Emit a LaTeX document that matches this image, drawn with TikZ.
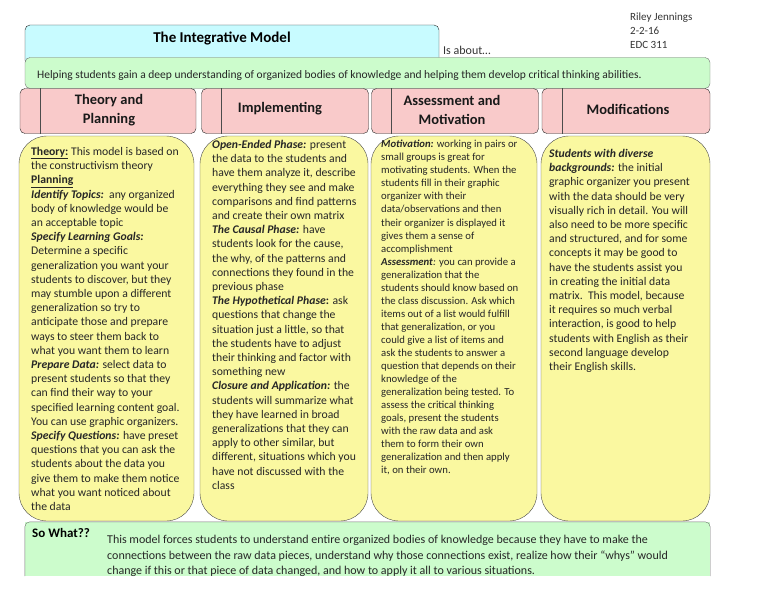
\documentclass[tikz,border=0pt]{standalone}
\usepackage{fontspec}
\setmainfont{Carlito}
\usetikzlibrary{positioning,calc}

\definecolor{titlecyan}{HTML}{C8FBFF}
\definecolor{aboutgreen}{HTML}{CCFCCC}
\definecolor{headpink}{HTML}{F9CACA}
\definecolor{colyellow}{HTML}{FAF8A0}

\begin{document}
\begin{tikzpicture}[x=1pt, y=-1pt,
    header/.style={draw=black!85, fill=headpink, rounded corners=5pt, minimum height=45pt, inner sep=0pt},
    column/.style={draw=black!70, fill=colyellow, rounded corners=28pt, minimum height=385pt, inner sep=0pt},
    headtext/.style={font=\bfseries\fontsize{14.5}{19}\selectfont, align=center, text=black!90},
    bodytext/.style={anchor=north west, inner sep=0pt, align=left, text=black!85, font=\fontsize{11.7}{14.2}\selectfont}]
  \useasboundingbox (0,0) rectangle (768,594);

  % Title and author
  \node[draw=black!85, fill=titlecyan, rounded corners=5pt, minimum width=414pt, minimum height=40pt, inner sep=0pt] (title) at (232,45) {};
  \node[font=\bfseries\fontsize{15}{18}\selectfont] (titletext) at (222,38) {The Integrative Model};
  \node[anchor=west, inner sep=0pt, font=\fontsize{12}{14}\selectfont, text=black!80] (isabout) at (443,50) {Is about…};
  \node[anchor=north west, inner sep=0pt, align=left, font=\fontsize{11}{14}\selectfont, text=black!80] (author) at (630,13) {Riley Jennings\\2-2-16\\EDC 311};

  % Is about
  \node[draw=black!55, fill=aboutgreen, rounded corners=5pt, minimum width=685pt, minimum height=31pt, inner sep=0pt] (about) at (367.5,73) {};
  \node[anchor=west, inner sep=0pt, font=\fontsize{11.5}{13}\selectfont, text=black!85] (abouttext) at (37,75) {Helping students gain a deep understanding of organized bodies of knowledge and helping them develop critical thinking abilities.};

  % Headers
  \node[header, minimum width=176pt] (hdrA) at (108,111) {};
  \node[header, minimum width=167pt] (hdrB) at (285,111) {};
  \node[header, minimum width=167pt] (hdrC) at (455,111) {};
  \node[header, minimum width=168pt] (hdrD) at (626,111) {};
  \foreach \h in {hdrA,hdrB,hdrC,hdrD}
    \draw[black!70] ($(\h.north west)+(20,0)$) -- ($(\h.south west)+(20,0)$);
  \node[headtext] (hdrAtext) at (109,110) {Theory and\\Planning};
  \node[headtext] (hdrBtext) at (280,109) {Implementing};
  \node[headtext] (hdrCtext) at (452,110) {Assessment and\\Motivation};
  \node[headtext] (hdrDtext) at (628,109) {Modifications};

  % Columns
  \node[column, minimum width=175pt] (colA) at (106.5,328.5) {};
  \node[column, minimum width=168pt] (colB) at (284,328.5) {};
  \node[column, minimum width=166pt] (colC) at (454,328.5) {};
  \node[column, minimum width=169pt] (colD) at (625.5,328.5) {};

  \node[bodytext] (txtA) at (31,147) {\underline{\textbf{Theory:}} This model is based on\\
    the constructivism theory\\
    \underline{\textbf{Planning}}\\
    \textbf{\textit{Identify Topics:}}\ \ any organized\\
    body of knowledge would be\\
    an acceptable topic\\
    \textbf{\textit{Specify Learning Goals:}}\\
    Determine a specific\\
    generalization you want your\\
    students to discover, but they\\
    may stumble upon a different\\
    generalization so try to\\
    anticipate those and prepare\\
    ways to steer them back to\\
    what you want them to learn\\
    \textbf{\textit{Prepare Data:}} select data to\\
    present students so that they\\
    can find their way to your\\
    specified learning content goal.\\
    You can use graphic organizers.\\
    \textbf{\textit{Specify Questions:}} have preset\\
    questions that you can ask the\\
    students about the data you\\
    give them to make them notice\\
    what you want noticed about\\
    the data};

  \node[bodytext] (txtB) at (212,140) {\textbf{\textit{Open-Ended Phase:}} present\\
    the data to the students and\\
    have them analyze it, describe\\
    everything they see and make\\
    comparisons and find patterns\\
    and create their own matrix\\
    \textbf{\textit{The Causal Phase:}} have\\
    students look for the cause,\\
    the why, of the patterns and\\
    connections they found in the\\
    previous phase\\
    \textbf{\textit{The Hypothetical Phase}}\textbf{:} ask\\
    questions that change the\\
    situation just a little, so that\\
    the students have to adjust\\
    their thinking and factor with\\
    something new\\
    \textbf{\textit{Closure and Application:}} the\\
    students will summarize what\\
    they have learned in broad\\
    generalizations that they can\\
    apply to other similar, but\\
    different, situations which you\\
    have not discussed with the\\
    class};

  \node[bodytext, font=\fontsize{10.7}{13.05}\selectfont] (txtC) at (381,140) {\textbf{\textit{Motivation:}} working in pairs or\\
    small groups is great for\\
    motivating students. When the\\
    students fill in their graphic\\
    organizer with their\\
    data/observations and then\\
    their organizer is displayed it\\
    gives them a sense of\\
    accomplishment\\
    \textbf{\textit{Assessment}}\textit{:} you can provide a\\
    generalization that the\\
    students should know based on\\
    the class discussion. Ask which\\
    items out of a list would fulfill\\
    that generalization, or you\\
    could give a list of items and\\
    ask the students to answer a\\
    question that depends on their\\
    knowledge of the\\
    generalization being tested. To\\
    assess the critical thinking\\
    goals, present the students\\
    with the raw data and ask\\
    them to form their own\\
    generalization and then apply\\
    it, on their own.};

  \node[bodytext] (txtD) at (549,149) {\textbf{\textit{Students with diverse}}\\
    \textbf{\textit{backgrounds:}} the initial\\
    graphic organizer you present\\
    with the data should be very\\
    visually rich in detail. You will\\
    also need to be more specific\\
    and structured, and for some\\
    concepts it may be good to\\
    have the students assist you\\
    in creating the initial data\\
    matrix.\ \ This model, because\\
    it requires so much verbal\\
    interaction, is good to help\\
    students with English as their\\
    second language develop\\
    their English skills.};

  % So what
  \node[fill=aboutgreen, minimum width=685pt, minimum height=54pt, inner sep=0pt] (sowhat) at (367.5,549) {};
  \draw[black!55, rounded corners=5pt] (sowhat.south west) -- (sowhat.north west) -- (sowhat.north east) -- (sowhat.south east);
  \node[anchor=west, inner sep=0pt, font=\bfseries\fontsize{13}{15}\selectfont] (sowhatlabel) at (32,533) {So What??};
  \node[anchor=north west, inner sep=0pt, align=left, text=black!85, font=\fontsize{12}{15.5}\selectfont] (sowhattext) at (107,535) {This model forces students to understand entire organized bodies of knowledge because they have to make the\\
    connections between the raw data pieces, understand why those connections exist, realize how their ``whys'' would\\
    change if this or that piece of data changed, and how to apply it all to various situations.};
\end{tikzpicture}
\end{document}
